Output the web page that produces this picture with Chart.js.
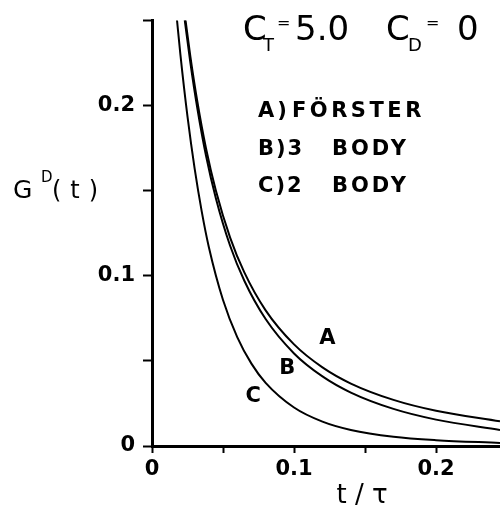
<!DOCTYPE html>
<html>
<head>
<meta charset="utf-8">
<script src="https://cdn.jsdelivr.net/npm/chart.js@4"></script>
<style>
  html, body { margin: 0; padding: 0; background: #fff; }
  #wrap { width: 500px; height: 505px; }
</style>
</head>
<body>
<div id="wrap"><canvas id="chart"></canvas></div>
<script>
// curve A: Förster
const tA = [0.023, 0.027, 0.032, 0.038, 0.045, 0.055, 0.065, 0.08, 0.1, 0.12, 0.14, 0.17, 0.2, 0.245];
const gA = [0.254, 0.229, 0.202, 0.175, 0.150, 0.1225, 0.102, 0.0797, 0.0597, 0.0462, 0.0367, 0.0271, 0.0207, 0.0145];
// curve B: 3 body
const tB = [0.023, 0.027, 0.032, 0.038, 0.045, 0.055, 0.065, 0.08, 0.1, 0.12, 0.14, 0.17, 0.2, 0.245];
const gB = [0.2506, 0.2253, 0.198, 0.1707, 0.1455, 0.1177, 0.0971, 0.0746, 0.0544, 0.0409, 0.0314, 0.0218, 0.0155, 0.0094];
// curve C: 2 body
const tC = [0.0174, 0.02, 0.025, 0.03, 0.035, 0.04, 0.05, 0.06, 0.07, 0.08, 0.1, 0.12, 0.14, 0.17, 0.2, 0.245];
const gC = [0.252, 0.230, 0.1935, 0.1631, 0.1379, 0.117, 0.0858, 0.064, 0.0484, 0.0371, 0.0226, 0.0143, 0.0094, 0.0054, 0.0034, 0.0018];

const xTickValues = [0, 0.1, 0.2];
const xTickLabels = ['0', '0.1', '0.2'];
const yTickValues = [0, 0.1, 0.2];
const yTickLabels = ['0', '0.1', '0.2'];

const curveNames = ['A', 'B', 'C'];
const nameT = [0.1235, 0.0953, 0.0713];
const nameG = [0.063, 0.0455, 0.029];

function pts(ts, gs) {
    return ts.map((t, i) => ({ x: t, y: gs[i] }));
}

function tickLabel(v, values, labels) {
    const i = values.findIndex(x => Math.abs(x - v) < 1e-6);
    return i >= 0 ? labels[i] : '';
}

function line(data) {
    return {
        data: data,
        borderColor: '#000',
        borderWidth: 2,
        pointRadius: 0,
        fill: false,
        cubicInterpolationMode: 'monotone'
    };
}

const textPlugin = {
    id: 'texts',
    beforeDraw(chart) {
        const ctx = chart.ctx;
        ctx.save();
        ctx.fillStyle = '#fff';
        ctx.fillRect(0, 0, chart.width, chart.height);
        ctx.restore();
    },
    afterDraw(chart) {
        const ctx = chart.ctx;
        const put = (s, x, y, font, align, spacing) => {
            ctx.font = font;
            ctx.textAlign = align || 'left';
            ctx.letterSpacing = spacing || '0px';
            ctx.fillText(s, x, y);
        };
        ctx.save();
        ctx.fillStyle = '#000';
        ctx.textBaseline = 'alphabetic';

        // header
        put('C', 243, 40, '34px "DejaVu Sans"');
        put('T', 263, 51, '18px "DejaVu Sans"');
        put('=', 277, 28, '16px "DejaVu Sans"');
        put('5.0', 295, 40, '34px "DejaVu Sans"');
        put('C', 386, 40, '34px "DejaVu Sans"');
        put('D', 408, 51, '18px "DejaVu Sans"');
        put('=', 426, 28, '16px "DejaVu Sans"');
        put('0', 457, 40, '34px "DejaVu Sans"');

        // key
        const keyFont = 'bold 21px "DejaVu Sans"';
        put('A)', 258, 117, keyFont, 'left', '3px');
        put('FÖRSTER', 292, 117, keyFont, 'left', '3.5px');
        put('B)3', 258, 155, keyFont, 'left', '2px');
        put('BODY', 332, 155, keyFont, 'left', '3px');
        put('C)2', 258, 192, keyFont, 'left', '2px');
        put('BODY', 332, 192, keyFont, 'left', '3px');

        // y axis title
        put('G', 13, 198, '25px "DejaVu Sans"');
        put('D', 41, 182, '15px "DejaVu Sans"');
        put('(t)', 52, 198, '24px "DejaVu Sans"', 'left', '9px');

        // x axis title
        put('t / τ', 362, 503, '26px "DejaVu Sans"', 'center');

        // curve names
        const xs = chart.scales.x, ys = chart.scales.y;
        ctx.textBaseline = 'middle';
        curveNames.forEach((n, i) => {
            put(n, xs.getPixelForValue(nameT[i]), ys.getPixelForValue(nameG[i]),
                'bold 21px "DejaVu Sans"', 'center');
        });
        ctx.restore();
    }
};

const tickFont = { family: 'DejaVu Sans', size: 21, weight: 'bold' };

new Chart(document.getElementById('chart').getContext('2d'), {
    type: 'line',
    data: {
        datasets: [line(pts(tA, gA)), line(pts(tB, gB)), line(pts(tC, gC))]
    },
    options: {
        responsive: true,
        maintainAspectRatio: false,
        animation: false,
        devicePixelRatio: 1,
        layout: { padding: { top: 17, right: 0, bottom: 0, left: 0 } },
        plugins: {
            legend: { display: false },
            tooltip: { enabled: false }
        },
        scales: {
            x: {
                type: 'linear',
                min: 0,
                max: 0.245,
                afterFit: s => { s.height = 59; },
                border: { display: true, color: '#000', width: 3 },
                grid: { drawOnChartArea: false, drawTicks: true, tickLength: 7, tickWidth: 2, tickColor: '#000' },
                ticks: {
                    stepSize: 0.05,
                    includeBounds: false,
                    maxRotation: 0,
                    autoSkip: false,
                    padding: 4,
                    color: '#000',
                    font: tickFont,
                    callback: v => tickLabel(v, xTickValues, xTickLabels)
                }
            },
            y: {
                min: 0,
                max: 0.25,
                afterFit: s => { s.width = 152; },
                border: { display: true, color: '#000', width: 3 },
                grid: { drawOnChartArea: false, drawTicks: true, tickLength: 9, tickWidth: 2, tickColor: '#000' },
                ticks: {
                    stepSize: 0.05,
                    includeBounds: false,
                    autoSkip: false,
                    padding: 8,
                    color: '#000',
                    font: tickFont,
                    callback: v => tickLabel(v, yTickValues, yTickLabels)
                }
            }
        }
    },
    plugins: [textPlugin]
});
</script>
</body>
</html>
